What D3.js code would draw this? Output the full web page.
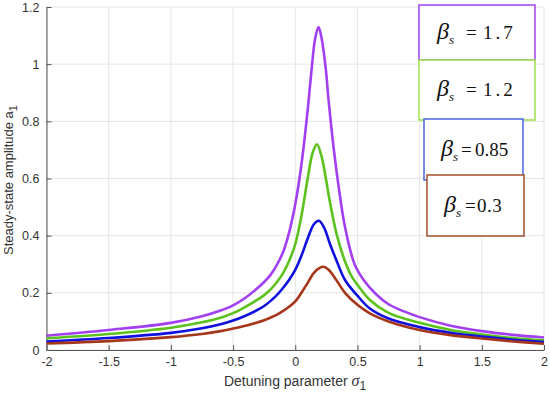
<!DOCTYPE html>
<html>
<head>
<meta charset="utf-8">
<script src="https://cdn.jsdelivr.net/npm/d3@7"></script>
<style>
  body { margin: 0; background: #fff; }
  svg { display: block; }
</style>
</head>
<body>
<div id="chart"></div>
<script>
// values
var sigmaP = [-2, -1.5, -1, -0.75, -0.6, -0.5, -0.4, -0.3, -0.25, -0.2, -0.15, -0.1, -0.05, 0, 0.05, 0.1, 0.13, 0.16, 0.187, 0.21, 0.244, 0.268, 0.3, 0.343, 0.4, 0.477, 0.55, 0.65, 0.75, 0.875, 1, 1.25, 1.5, 1.75, 2];
var ampP   = [0.050, 0.070, 0.095, 0.118, 0.138, 0.156, 0.183, 0.218, 0.238, 0.262, 0.296, 0.34, 0.41, 0.51, 0.65, 0.84, 0.975, 1.09, 1.13, 1.095, 0.99, 0.874, 0.74, 0.59, 0.43, 0.30, 0.245, 0.195, 0.16, 0.135, 0.115, 0.085, 0.066, 0.053, 0.044];

var sigmaG = [-2, -1.5, -1, -0.75, -0.6, -0.5, -0.4, -0.3, -0.25, -0.2, -0.15, -0.1, -0.046, 0, 0.05, 0.1, 0.14, 0.174, 0.21, 0.25, 0.276, 0.33, 0.396, 0.45, 0.5, 0.6, 0.75, 1, 1.25, 1.5, 1.75, 2];
var ampG   = [0.041, 0.056, 0.078, 0.097, 0.113, 0.129, 0.151, 0.177, 0.192, 0.211, 0.236, 0.267, 0.315, 0.37, 0.47, 0.60, 0.69, 0.72, 0.68, 0.59, 0.524, 0.41, 0.315, 0.26, 0.228, 0.175, 0.13, 0.095, 0.07, 0.054, 0.042, 0.034];

var sigmaB = [-2, -1.5, -1, -0.75, -0.6, -0.5, -0.4, -0.3, -0.25, -0.2, -0.15, -0.1, -0.05, 0, 0.05, 0.1, 0.15, 0.19, 0.23, 0.28, 0.33, 0.4, 0.5, 0.6, 0.75, 1, 1.25, 1.5, 1.75, 2];
var ampB   = [0.030, 0.042, 0.060, 0.076, 0.09, 0.103, 0.12, 0.141, 0.154, 0.171, 0.191, 0.216, 0.245, 0.28, 0.33, 0.39, 0.44, 0.452, 0.43, 0.37, 0.315, 0.245, 0.19, 0.145, 0.11, 0.08, 0.06, 0.047, 0.036, 0.028];

var sigmaR = [-2, -1.5, -1, -0.75, -0.6, -0.5, -0.4, -0.3, -0.25, -0.2, -0.15, -0.1, -0.05, 0, 0.05, 0.1, 0.15, 0.2, 0.228, 0.27, 0.33, 0.4, 0.5, 0.6, 0.75, 1, 1.25, 1.5, 1.75, 2];
var ampR   = [0.023, 0.031, 0.045, 0.056, 0.066, 0.075, 0.085, 0.097, 0.104, 0.113, 0.123, 0.136, 0.151, 0.17, 0.20, 0.235, 0.27, 0.288, 0.291, 0.28, 0.245, 0.20, 0.158, 0.128, 0.10, 0.07, 0.052, 0.04, 0.03, 0.022];

var betaLabels = ["1.7", "1.2", "0.85", "0.3"];
var xTicks = [-2, -1.5, -1, -0.5, 0, 0.5, 1, 1.5, 2];
var yTicks = [0, 0.2, 0.4, 0.6, 0.8, 1, 1.2];

var series = [
  {x: sigmaP, y: ampP, color: "#a23ff0"},
  {x: sigmaG, y: ampG, color: "#5cc21e"},
  {x: sigmaB, y: ampB, color: "#1010e0"},
  {x: sigmaR, y: ampR, color: "#a5361a"}
];

var W = 550, H = 394;
var svg = d3.select("#chart").append("svg")
    .attr("width", W)
    .attr("height", H);

var x = d3.scaleLinear().domain([-2, 2]).range([46.5, 544]);
var y = d3.scaleLinear().domain([0, 1.2]).range([350, 7]);

// grid
svg.append("g").selectAll("line.gx")
    .data(xTicks).enter().append("line")
    .attr("x1", function(d){ return x(d); })
    .attr("x2", function(d){ return x(d); })
    .attr("y1", y(0)).attr("y2", y(1.2))
    .attr("stroke", "#e5e5e5").attr("stroke-width", 1);
svg.append("g").selectAll("line.gy")
    .data(yTicks).enter().append("line")
    .attr("x1", x(-2)).attr("x2", x(2))
    .attr("y1", function(d){ return y(d); })
    .attr("y2", function(d){ return y(d); })
    .attr("stroke", "#e5e5e5").attr("stroke-width", 1);

// axes
var fmt = function(d){ return String(d); };
var xAxis = svg.append("g")
    .attr("transform", "translate(0," + y(0) + ")")
    .call(d3.axisBottom(x).tickValues(xTicks).tickFormat(fmt).tickSizeInner(-5).tickSizeOuter(0).tickPadding(7));
var yAxis = svg.append("g")
    .attr("transform", "translate(" + x(-2) + ",0)")
    .call(d3.axisLeft(y).tickValues(yTicks).tickFormat(fmt).tickSizeInner(-5).tickSizeOuter(0).tickPadding(7));
[xAxis, yAxis].forEach(function(g){
  g.select(".domain").attr("stroke", "#555");
  g.selectAll(".tick line").attr("stroke", "#555");
  g.selectAll(".tick text")
    .attr("fill", "#333")
    .style("font-family", "'Liberation Sans', Arial, sans-serif")
    .style("font-size", "12.5px");
});

// curves
var line = d3.line()
    .x(function(d){ return x(d[0]); })
    .y(function(d){ return y(d[1]); })
    .curve(d3.curveCatmullRom.alpha(0.5));

series.forEach(function(s){
  svg.append("path")
    .datum(d3.zip(s.x, s.y))
    .attr("d", line)
    .attr("fill", "none")
    .attr("stroke", s.color)
    .attr("stroke-width", 2.6);
});

// axis labels
var xl = svg.append("text")
    .attr("x", 295).attr("y", 386)
    .attr("text-anchor", "middle")
    .attr("fill", "#333")
    .style("font-family", "'Liberation Sans', Arial, sans-serif")
    .style("font-size", "14px");
xl.append("tspan").text("Detuning parameter ");
xl.append("tspan").text("σ").style("font-style", "italic").style("font-family", "'Liberation Serif', 'Times New Roman', serif").style("font-size", "16px");
xl.append("tspan").text("1").attr("dy", 4).style("font-size", "12px");

var yl = svg.append("text")
    .attr("transform", "translate(13,180) rotate(-90)")
    .attr("text-anchor", "middle")
    .attr("fill", "#333")
    .style("font-family", "'Liberation Sans', Arial, sans-serif")
    .style("font-size", "13px");
yl.append("tspan").text("Steady-state amplitude a");
yl.append("tspan").text("1").attr("dy", 4).style("font-size", "11px");

// legend boxes
var boxes = [
  {x0: 419, x1: 535, y0: 5, y1: 60, stroke: "#a040f0", tx: 437, eqx: 466, nx: 483, ls: 3},
  {x0: 419, x1: 535, y0: 60, y1: 120, stroke: "#9de24a", tx: 437, eqx: 466, nx: 483, ls: 3},
  {x0: 424, x1: 523, y0: 119, y1: 180, stroke: "#4a64e0", tx: 441, eqx: 461, nx: 475, ls: 0},
  {x0: 427, x1: 524, y0: 175, y1: 236, stroke: "#a0522d", tx: 444, eqx: 465, nx: 477, ls: 0.5}
];

boxes.forEach(function(b, i){
  var base = (b.y0 + b.y1) / 2 + 6;
  svg.append("rect")
    .attr("x", b.x0).attr("y", b.y0)
    .attr("width", b.x1 - b.x0).attr("height", b.y1 - b.y0)
    .attr("fill", "#fff")
    .attr("stroke", b.stroke)
    .attr("stroke-width", 1.5);
  var t = svg.append("text")
    .attr("x", b.tx).attr("y", base)
    .attr("fill", "#111")
    .style("font-family", "'Liberation Serif', 'Times New Roman', serif")
    .style("font-size", "24px");
  t.append("tspan").text("β").style("font-style", "italic");
  t.append("tspan").text("s").style("font-style", "italic").style("font-size", "13px").attr("dy", 5);
  svg.append("text")
    .attr("x", b.eqx).attr("y", base)
    .attr("fill", "#111")
    .style("font-family", "'Liberation Serif', 'Times New Roman', serif")
    .style("font-size", "19px")
    .text("=");
  svg.append("text")
    .attr("x", b.nx).attr("y", base)
    .attr("fill", "#111")
    .style("font-family", "'Liberation Serif', 'Times New Roman', serif")
    .style("font-size", "19px")
    .style("letter-spacing", b.ls + "px")
    .text(betaLabels[i]);
});
</script>
</body>
</html>
